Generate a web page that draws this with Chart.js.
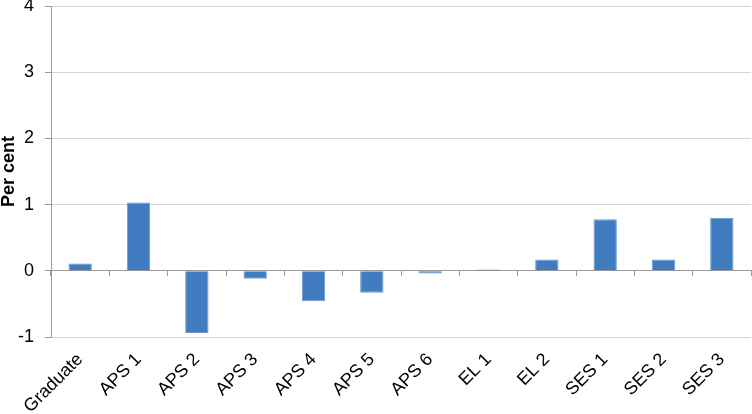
<!DOCTYPE html>
<html>
<head>
<meta charset="utf-8">
<script src="https://cdn.jsdelivr.net/npm/chart.js@4"></script>
<style>
html,body{margin:0;padding:0;background:#fff;}
#wrap{width:752px;height:414px;}
</style>
</head>
<body>
<div id="wrap"><canvas id="c" width="752" height="414"></canvas></div>
<script>
const categories = ["Graduate","APS 1","APS 2","APS 3","APS 4","APS 5","APS 6","EL 1","EL 2","SES 1","SES 2","SES 3"];
const values = [0.11, 1.03, -0.94, -0.12, -0.46, -0.33, -0.04, 0.02, 0.17, 0.78, 0.17, 0.80];
const yTicks = [-1, 0, 1, 2, 3, 4];
const yTitle = "Per cent";

const FONT = "'Liberation Sans', Arial, sans-serif";

new Chart(document.getElementById('c'), {
  type: 'bar',
  data: {
    labels: categories,
    datasets: [{
      data: values,
      backgroundColor: '#407CBF',
      borderColor: '#6A98CF',
      borderWidth: 1,
      barPercentage: 0.4,
      categoryPercentage: 1.0,
      xAxisID: 'x'
    }]
  },
  options: {
    responsive: false,
    animation: false,
    devicePixelRatio: 1,
    layout: { padding: { top: 6, right: 1, bottom: 0, left: 0 } },
    plugins: { legend: { display: false }, tooltip: { enabled: false } },
    scales: {
      x: {
        type: 'category',
        position: 'bottom',
        grid: { display: false, drawTicks: false },
        border: { display: false },
        ticks: {
          color: '#000',
          font: { family: FONT, size: 18 },
          minRotation: 45,
          maxRotation: 45,
          padding: 12,
          autoSkip: false
        },
        afterFit: (ax) => { ax.height = 77; ax.paddingLeft = 0; ax.paddingRight = 0; }
      },
      x2: {
        type: 'category',
        labels: categories,
        position: { y: 0 },
        offset: true,
        grid: {
          display: true,
          drawOnChartArea: false,
          drawTicks: true,
          tickLength: 5,
          offset: true,
          color: '#999'
        },
        border: { display: true, color: '#999', width: 1 },
        ticks: { display: false }
      },
      y: {
        min: -1,
        max: 4,
        afterBuildTicks: (ax) => { ax.ticks = yTicks.map(v => ({ value: v })); },
        afterFit: (ax) => { ax.paddingTop = 0; ax.paddingBottom = 0; ax.width = 51; },
        grid: { color: '#d6d6d6', tickLength: 6, drawTicks: true, tickColor: '#999' },
        border: { display: true, color: '#999' },
        ticks: {
          color: '#000',
          font: { family: FONT, size: 18 },
          padding: 11
        },
        title: {
          display: true,
          text: yTitle,
          color: '#000',
          font: { family: FONT, size: 18, weight: 'bold', lineHeight: 1 },
          padding: { top: 0, bottom: 0 }
        }
      }
    }
  }
});
</script>
</body>
</html>
